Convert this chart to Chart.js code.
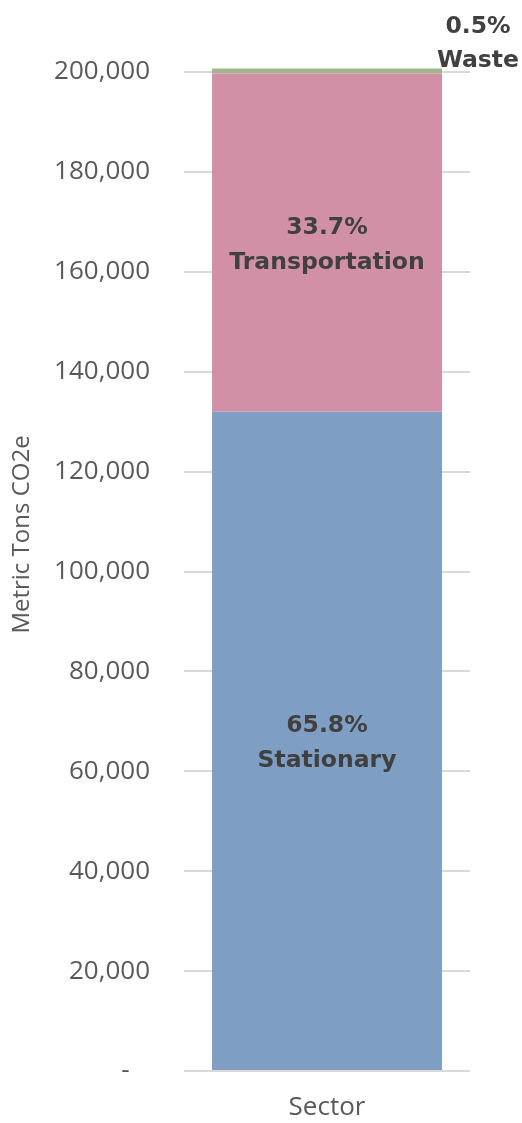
<!DOCTYPE html>
<html>
<head>
<meta charset="utf-8">
<script src="https://cdn.jsdelivr.net/npm/chart.js@4/dist/chart.umd.min.js"></script>
<style>
html,body{margin:0;padding:0;background:#fff;}
#wrap{width:522px;height:1123px;position:relative;}
</style>
</head>
<body>
<div id="wrap"><canvas id="c" width="522" height="1123"></canvas></div>
<script>
const categories = ['Sector'];
const seriesNames = ['Stationary', 'Transportation', 'Waste'];
const stationary = [132000];
const transportation = [67700];
const waste = [1000];
const percentLabels = ['65.8%', '33.7%', '0.5%'];
const seriesColors = ['#7f9ec3', '#d190a5', '#a3b58d'];
const yTitle = 'Metric Tons CO2e';
const xTitle = 'Sector';

const labelPlugin = {
  id: 'segLabels',
  afterDatasetsDraw(chart) {
    const ctx = chart.ctx;
    ctx.save();
    ctx.font = 'bold 23.5px "DejaVu Sans"';
    ctx.fillStyle = '#404040';
    ctx.textAlign = 'center';
    ctx.textBaseline = 'middle';
    chart.data.datasets.forEach((ds, i) => {
      const meta = chart.getDatasetMeta(i);
      meta.data.forEach(el => {
        const p = el.getProps(['x', 'y', 'base', 'width'], true);
        if (i === 2) {
          const cx = p.x + p.width / 2 + 36;
          const top = p.y;
          ctx.fillText(percentLabels[i], cx, top - 42);
          ctx.fillText(ds.label, cx, top - 8);
        } else {
          const cy = (p.y + p.base) / 2 + 3;
          ctx.fillText(percentLabels[i], p.x, cy - 17.5);
          ctx.fillText(ds.label, p.x, cy + 17.5);
        }
      });
    });
    // y axis title
    const ya = chart.scales.y;
    ctx.font = '24px "Open Sans"';
    ctx.fillStyle = '#595959';
    ctx.translate(22, (ya.top + ya.bottom) / 2 - 37);
    ctx.rotate(-Math.PI / 2);
    ctx.fillText(yTitle, 0, 0);
    ctx.restore();
  }
};

new Chart(document.getElementById('c'), {
  type: 'bar',
  data: {
    labels: categories,
    datasets: [
      { label: seriesNames[0], data: stationary, backgroundColor: seriesColors[0] },
      { label: seriesNames[1], data: transportation, backgroundColor: seriesColors[1] },
      { label: seriesNames[2], data: waste, backgroundColor: seriesColors[2], clip: false }
    ]
  },
  options: {
    responsive: false,
    animation: false,
    devicePixelRatio: 1,
    layout: { padding: { top: 72, left: 8, right: 52, bottom: 0 } },
    datasets: { bar: { categoryPercentage: 0.804, barPercentage: 1, borderWidth: 0, clip: false } },
    plugins: { legend: { display: false }, tooltip: { enabled: false } },
    scales: {
      x: {
        stacked: true,
        grid: { display: false },
        border: { display: false },
        ticks: { display: false },
        title: {
          display: true, text: xTitle, color: '#595959',
          font: { family: 'Open Sans', size: 26 }, padding: { top: 0, bottom: 0 }
        },
        afterFit(s) { s.height = 52; }
      },
      y: {
        stacked: true,
        min: 0, max: 200000,
        border: { display: false },
        grid: { color: '#d9d9d9', lineWidth: 2, drawTicks: false },
        ticks: {
          stepSize: 20000, padding: 34, color: '#595959',
          font: { family: 'Open Sans', size: 26 },
          callback: v => v === 0 ? '-   ' : v.toLocaleString('en-US')
        },
        afterFit(s) { s.width = 176; }
      }
    }
  },
  plugins: [labelPlugin]
});
</script>
</body>
</html>
